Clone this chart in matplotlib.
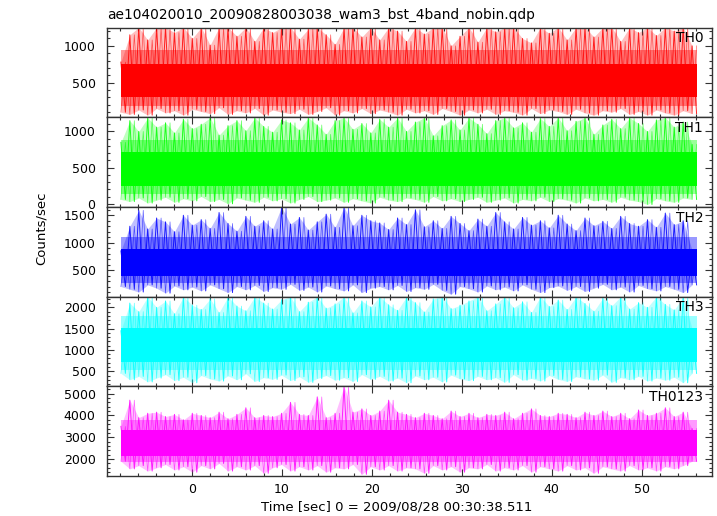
import numpy as np
import matplotlib
matplotlib.use("Agg")
import matplotlib.pyplot as plt
from matplotlib.ticker import MultipleLocator

plt.rcParams['font.family'] = ['DejaVu Sans']

title = "ae104020010_20090828003038_wam3_bst_4band_nobin.qdp"
xlabel = "Time [sec] 0 = 2009/08/28 00:30:38.511"
ylabel = "Counts/sec"

names = ["TH0", "TH1", "TH2", "TH3", "TH0123"]
colors = ["#ff0000", "#00ff00", "#0000ff", "#00ffff", "#ff00ff"]

# time stamps of the envelope samples (sec)
t = np.linspace(-7.9, 55.6, 65)

# spike tops / bottoms, one per second
th0_hi = [780, 1150, 1250, 1080, 1250, 1250, 1180, 1250, 1100, 1250,
          1010, 1250, 1250, 1130, 1250, 1060, 1250, 1180, 1250, 1250,
          1090, 1230, 1250, 1150, 1020, 1250, 1250, 1120, 1250, 1080,
          1250, 1200, 1060, 1250, 1160, 1250, 1250, 1000, 1130, 1250,
          1050, 1250, 1190, 1250, 1250, 1100, 1040, 1250, 1170, 1250,
          1080, 1250, 1250, 1120, 1250, 1250, 1060, 1250, 1180, 1250,
          1140, 1250, 1200, 1250, 1000]
th0_lo = [100, 70, 130, 60, 150, 90, 120, 60, 140, 110,
          80, 160, 70, 120, 90, 150, 60, 130, 100, 80,
          140, 70, 110, 160, 60, 120, 90, 150, 80, 130,
          100, 60, 140, 90, 120, 70, 150, 110, 60, 130,
          90, 140, 70, 120, 100, 60, 150, 80, 130, 110,
          70, 140, 90, 60, 120, 100, 150, 70, 110, 60,
          130, 90, 60, 120, 80]

th1_hi = [850, 1150, 1000, 1190, 1060, 1120, 980, 1170, 1040, 1100,
          1190, 950, 1080, 1150, 1010, 1190, 1070, 990, 1160, 1120,
          1020, 1190, 1090, 960, 1150, 1190, 1030, 1110, 980, 1170,
          1060, 1190, 1000, 1130, 1190, 940, 1080, 1160, 1020, 1190,
          1100, 970, 1150, 1190, 1050, 1120, 990, 1180, 1070, 1190,
          1010, 1140, 1190, 960, 1090, 1170, 1040, 1190, 1110, 1000,
          1160, 1190, 1060, 1130, 820]
th1_lo = [60, 30, 80, 10, 50, 90, 20, 70, 40, 100,
          30, 60, 0, 80, 50, 20, 90, 40, 70, 10,
          60, 100, 30, 50, 80, 20, 70, 40, 10, 90,
          50, 30, 80, 60, 20, 100, 40, 70, 30, 60,
          90, 20, 50, 80, 10, 60, 40, 90, 30, 70,
          50, 10, 80, 40, 60, 20, 90, 50, 30, -10,
          70, 40, 20, 80, 60]

th2_hi = [850, 1300, 1590, 1250, 1450, 1380, 1200, 1500, 1320, 1420,
          1260, 1550, 1350, 1210, 1480, 1300, 1400, 1250, 1650, 1340,
          1460, 1230, 1380, 1520, 1280, 1650, 1310, 1500, 1400, 1360,
          1240, 1450, 1330, 1600, 1290, 1400, 1260, 1480, 1350, 1220,
          1430, 1300, 1550, 1380, 1250, 1460, 1320, 1400, 1270, 1500,
          1340, 1220, 1450, 1310, 1390, 1260, 1480, 1350, 1300, 1420,
          1280, 1540, 1330, 1400, 860]
th2_lo = [200, 150, 100, 230, 170, 80, 210, 140, 190, 120,
          230, 160, 90, 200, 140, 220, 110, 180, 150, 240,
          130, 190, 100, 210, 160, 120, 230, 90, 170, 200,
          140, 220, 110, 180, 150, 240, 130, 60, 200, 160,
          100, 210, 140, 190, 120, 230, 150, 90, 180, 210,
          130, 200, 110, 170, 240, 140, 190, 100, 220, 160,
          120, 200, 150, 90, 230]

th3_hi = [1450, 2100, 1900, 2250, 2000, 2150, 1850, 2250, 2050, 1950,
          2200, 1880, 2250, 2030, 1920, 2250, 2100, 1960, 2180, 2250,
          1900, 2120, 2250, 1980, 2080, 2250, 1870, 2150, 2010, 2250,
          2060, 1930, 2250, 2110, 1890, 2200, 2250, 1970, 2050, 2150,
          2250, 1920, 2080, 2250, 1990, 2130, 1880, 2250, 2020, 2170,
          1950, 2250, 2090, 1910, 2220, 2040, 2250, 1960, 2110, 2000,
          2250, 2070, 1940, 2250, 1500]
th3_lo = [450, 300, 380, 250, 340, 420, 280, 360, 230, 400,
          320, 270, 390, 300, 440, 260, 350, 310, 410, 280,
          370, 240, 330, 400, 290, 350, 260, 420, 310, 380,
          270, 340, 230, 390, 300, 360, 250, 410, 320, 280,
          380, 300, 350, 240, 420, 290, 330, 270, 400, 310,
          260, 370, 320, 290, 410, 240, 350, 300, 380, 270,
          340, 290, 360, 230, 450]

th0123_hi = [3500, 4700, 3900, 4100, 4150, 3950, 4050, 3800, 4100, 4000,
             3900, 4150, 3850, 4050, 4350, 3900, 4000, 3950, 4100, 4600,
             4050, 4000, 4850, 3900, 4100, 5330, 4150, 4300, 4000, 4200,
             4700, 4150, 4050, 3900, 4100, 4000, 3850, 4200, 3950, 4100,
             3900, 4050, 4000, 4150, 3850, 4100, 4300, 4000, 3950, 4100,
             4050, 3900, 4150, 4000, 4200, 3950, 4100, 3850, 4250, 4000,
             4100, 4350, 3950, 4150, 3400]
th0123_lo = [1900, 1550, 1700, 1450, 1600, 1750, 1500, 1650, 1400, 1700,
             1550, 1800, 1450, 1650, 1500, 1700, 1350, 1600, 1750, 1450,
             1650, 1500, 1700, 1400, 1600, 1550, 1750, 1300, 1650, 1500,
             1700, 1450, 1600, 1550, 1350, 1700, 1500, 1650, 1400, 1600,
             1550, 1750, 1450, 1600, 1500, 1700, 1400, 1650, 1550, 1450,
             1700, 1500, 1600, 1350, 1650, 1550, 1450, 1700, 1500, 1600,
             1450, 1650, 1550, 1700, 1900]

his = [th0_hi, th1_hi, th2_hi, th3_hi, th0123_hi]
los = [th0_lo, th1_lo, th2_lo, th3_lo, th0123_lo]

# solid part of each band and the denser part of its fringe
core = [(300, 760), (240, 720), (400, 880), (720, 1520), (2150, 3350)]
fuzz = [(180, 950), (130, 880), (260, 1100), (520, 1800), (1850, 3800)]

ylims = [(30, 1246), (-45, 1195), (15, 1650), (146, 2250), (1224, 5333)]
ymajor = [500, 500, 500, 500, 1000]
yminor = [100, 100, 100, 100, 200]

fig, axes = plt.subplots(5, 1, figsize=(7.17, 5.16), dpi=100, sharex=True)
fig.subplots_adjust(left=0.1488, right=0.9926, top=0.9463, bottom=0.0775, hspace=0)

for i, ax in enumerate(axes):
    c = colors[i]
    hi = np.array(his[i], dtype=float)
    lo = np.array(los[i], dtype=float)
    span = [t[0], t[-1] + 0.5]

    ax.fill_between(t, lo, hi, color=c, alpha=0.25, lw=0)
    ax.fill_between(span, fuzz[i][0], fuzz[i][1], color=c, alpha=0.4, lw=0)
    ax.fill_between(span, core[i][0], core[i][1], color=c, lw=0)

    x = np.empty(2 * len(t))
    x[0::2] = t
    x[1::2] = t + 0.5
    y1 = np.empty(2 * len(t))
    y1[0::2] = hi
    y1[1::2] = lo
    y2 = np.empty(2 * len(t))
    y2[0::2] = lo
    y2[1::2] = hi
    ax.plot(x, y1, color=c, lw=0.7, alpha=0.85)
    ax.plot(x, y2, color=c, lw=0.5, alpha=0.6)

    ax.set_xlim(-9.48, 57.78)
    ax.set_ylim(*ylims[i])
    ax.xaxis.set_major_locator(MultipleLocator(10))
    ax.xaxis.set_minor_locator(MultipleLocator(2))
    ax.yaxis.set_major_locator(MultipleLocator(ymajor[i]))
    ax.yaxis.set_minor_locator(MultipleLocator(yminor[i]))
    ax.tick_params(which='both', direction='in', top=True, right=True,
                   color='#333333', width=0.8, labelsize=9, pad=8)
    ax.tick_params(which='major', length=5)
    ax.tick_params(which='minor', length=2.5)
    ax.tick_params(axis='x', pad=5)
    for s in ax.spines.values():
        s.set_color('#333333')
        s.set_linewidth(1.0)
    ax.text(0.986, 0.96, names[i], transform=ax.transAxes,
            ha='right', va='top', fontsize=10)

fig.text(0.1488, 0.963, title, fontsize=9.9, ha='left', va='baseline')
fig.text(397 / 717, 0.0105, xlabel, fontsize=9.5, ha='center', va='baseline')
fig.text(41 / 717, 1 - 228 / 516, ylabel, fontsize=9.5, rotation=90,
         ha='center', va='center')

fig.savefig("out.png", dpi=100)
